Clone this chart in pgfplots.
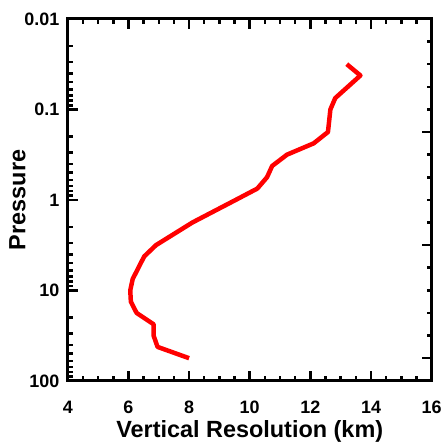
\documentclass[border=0pt]{standalone}
\usepackage{pgfplots}
\pgfplotsset{compat=1.18}
\usepackage{fontspec}
\setmainfont{Liberation Sans}
\begin{document}
\begin{tikzpicture}
\begin{axis}[
  name=main,
  scale only axis,
  width=365pt, height=363pt,
  xmin=4, xmax=16,
  ymode=log, y dir=reverse,
  ymin=0.01, ymax=100,
  xtick={4,6,...,16},
  minor x tick num=3,
  ytick={0.01,0.1,1,10,100},
  yticklabels={0.01,0.1,1,10,100},
  minor ytick={0.02,0.03,0.04,0.05,0.06,0.07,0.08,0.09,
               0.2,0.3,0.4,0.5,0.6,0.7,0.8,0.9,
               2,3,4,5,6,7,8,9,
               20,30,40,50,60,70,80,90},
  ytick pos=left,
  tick align=inside,
  major tick length=10pt,
  minor tick length=5pt,
  every tick/.style={line width=2.5pt, black},
  axis line style={line width=3pt, black},
  xticklabel style={font=\fontsize{18}{20}\selectfont\bfseries, /pgf/number format/assume math mode=true, yshift=-17pt},
  yticklabel style={font=\fontsize{18}{20}\selectfont\bfseries, xshift=-5pt},
  xlabel={Vertical Resolution (km)},
  ylabel={Pressure},
  label style={font=\fontsize{23.5}{26}\selectfont\bfseries},
  xlabel style={yshift=0pt},
  ylabel style={yshift=-8pt},
  clip=false,
]
\addplot[red, line width=4.5pt, line join=round] coordinates {
(13.20,0.03162)
(13.65,0.04217)
(12.82,0.07499)
(12.66,0.1)
(12.58,0.1778)
(12.11,0.2371)
(11.23,0.3162)
(10.74,0.4217)
(10.57,0.5623)
(10.25,0.7499)
(9.54,1.0)
(8.11,1.778)
(6.91,3.162)
(6.52,4.217)
(6.14,7.499)
(6.06,10)
(6.08,13.34)
(6.27,17.78)
(6.83,23.71)
(6.83,31.62)
(6.96,42.17)
(8.00,56.23)
};
\end{axis}
\begin{axis}[
  scale only axis,
  width=365pt, height=363pt,
  xmin=4, xmax=16,
  ymin=16, ymax=80,
  hide x axis,
  ytick pos=right,
  ytick={20,40,60,80},
  minor ytick={16,24,28,32,36,44,48,52,56,64,68,72,76},
  yticklabels={},
  tick align=inside,
  major tick length=10pt,
  minor tick length=5pt,
  every tick/.style={line width=2.5pt, black},
  axis line style={line width=3pt, black},
]
\end{axis}
\path ([xshift=-68pt,yshift=-62pt]main.south west) rectangle ([xshift=13pt,yshift=19pt]main.north east);
\end{tikzpicture}
\end{document}
